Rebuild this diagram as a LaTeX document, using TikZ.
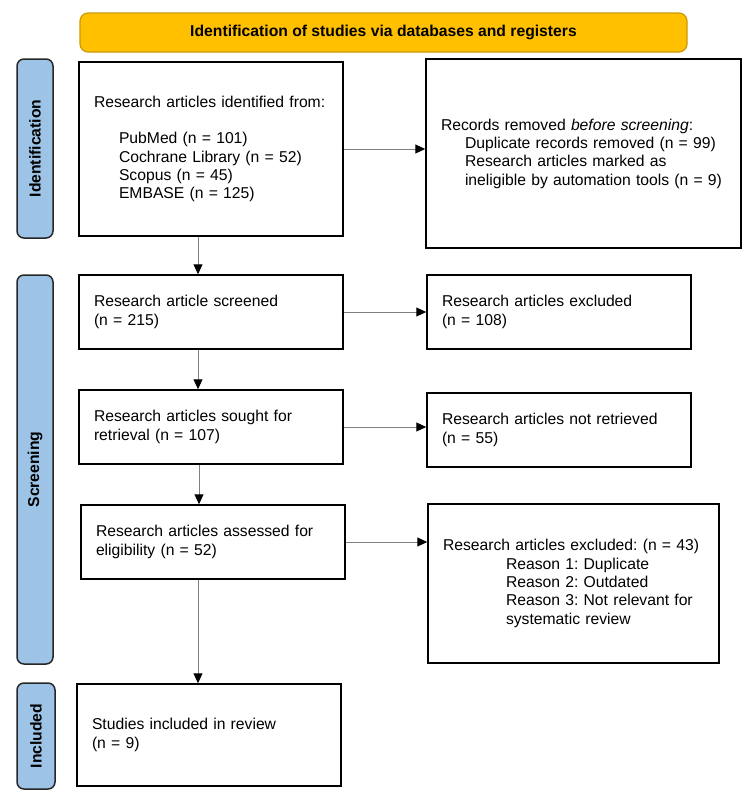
\documentclass[tikz,border=0pt]{standalone}
\usepackage{fontspec}
\setmainfont{Liberation Sans}
\usetikzlibrary{arrows.meta}
\definecolor{barorange}{HTML}{FFC000}
\definecolor{barline}{HTML}{C99A06}
\definecolor{stageblue}{HTML}{9DC3E6}

\begin{document}
\begin{tikzpicture}[x=1pt, y=-1pt, font=\fontsize{15.7}{18.3}\selectfont\frenchspacing,
		block/.style={rectangle, draw=black, line width=1.5pt, align=left, inner xsep=15pt, inner ysep=0pt},
		stage/.style={rectangle, rounded corners=7pt, fill=stageblue, draw=black!85, line width=1.5pt, rotate=90, inner sep=0pt, font=\fontsize{15.7}{18.3}\selectfont\bfseries},
		flow/.style={draw=gray, line width=1pt, -{Triangle[length=10pt, width=9pt, color=black]}}]
			\useasboundingbox (0,0) rectangle (750,803);
			\node [rectangle, rounded corners=8pt, fill=barorange, draw=barline, line width=1.2pt, minimum width=607pt, minimum height=39pt, font=\fontsize{15.7}{18.3}\selectfont\bfseries] (title) at (383.5,32.5) {Identification of studies via databases and registers};
			\node [stage, minimum width=179pt, minimum height=36pt] (idlab) at (35,148.5) {Identification};
			\node [stage, minimum width=389pt, minimum height=36pt] (sclab) at (35,469.5) {Screening};
			\node [stage, minimum width=106pt, minimum height=38pt] (inlab) at (36,736) {Included};
			\node [block, text width=234pt, minimum height=174pt] (idbox) at (211,149) {Research articles identified from:\\[18.3pt]
				\hspace*{25pt}PubMed (n = 101)\\
				\hspace*{25pt}Cochrane Library (n = 52)\\
				\hspace*{25pt}Scopus (n = 45)\\
				\hspace*{25pt}EMBASE (n = 125)};
			\node [block, text width=285pt, minimum height=189pt] (rmbox) at (583.5,153.5) {Records removed \textit{before screening}:\\
				\hspace*{24pt}Duplicate records removed (n = 99)\\
				\hspace*{24pt}Research articles marked as\\
				\hspace*{24pt}ineligible by automation tools (n = 9)};
			\node [block, text width=234pt, minimum height=74pt] (screen) at (211,312) {Research article screened\\(n = 215)};
			\node [block, text width=234pt, minimum height=74pt] (excl) at (559,312) {Research articles excluded\\(n = 108)};
			\node [block, text width=234pt, minimum height=74pt] (sought) at (211,427) {Research articles sought for\\retrieval (n = 107)};
			\node [block, text width=234pt, minimum height=74pt] (notret) at (559,430) {Research articles not retrieved\\(n = 55)};
			\node [block, text width=234pt, minimum height=74pt] (assess) at (213,542) {Research articles assessed for\\eligibility (n = 52)};
			\node [block, text width=261pt, minimum height=159pt] (exclrs) at (573.5,583.5) {Research articles excluded: (n = 43)\\
				\hspace*{63pt}Reason 1: Duplicate\\
				\hspace*{63pt}Reason 2: Outdated\\
				\hspace*{63pt}Reason 3: Not relevant for\\
				\hspace*{63pt}systematic review};
			\node [block, text width=234pt, minimum height=102pt] (incl) at (209,735) {Studies included in review\\(n = 9)};
			\draw [flow] ([xshift=-13pt]idbox.south) -- ([xshift=-13pt]idbox.south |- screen.north);
			\draw [flow] ([xshift=-13pt]screen.south) -- ([xshift=-13pt]screen.south |- sought.north);
			\draw [flow] ([xshift=-12pt]sought.south) -- ([xshift=-12pt]sought.south |- assess.north);
			\draw [flow] ([xshift=-15pt]assess.south) -- ([xshift=-15pt]assess.south |- incl.north);
			\draw [flow] (idbox.east) -- (idbox.east -| rmbox.west);
			\draw [flow] (screen.east) -- (screen.east -| excl.west);
			\draw [flow] (sought.east) -- (sought.east -| notret.west);
			\draw [flow] (assess.east) -- (assess.east -| exclrs.west);
		\end{tikzpicture}
\end{document}
